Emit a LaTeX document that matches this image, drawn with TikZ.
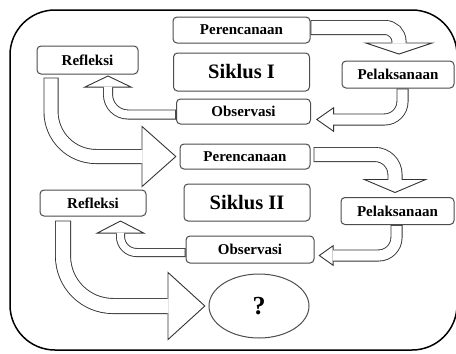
\documentclass[tikz,border=0pt]{standalone}
\usepackage{fontspec}
\setmainfont{Liberation Serif}
\usetikzlibrary{arrows.meta,positioning,calc,shapes.geometric}
\tikzset{
  box/.style={rectangle, draw=black!70, line width=1pt, rounded corners=4pt,
    fill=white, inner sep=0pt, font=\bfseries\fontsize{15}{15}\selectfont},
  title box/.style={box, font=\bfseries\fontsize{20.5}{20.5}\selectfont},
  hollow arrow/.style args={#1 with head #2 by #3}{
    draw=black!80, line width=#1, line cap=butt,
    -{Triangle[fill=white, width=#2, length=#3, line width=0.9pt]}, % outline + head
    postaction={draw=white, -, line width=(#1)-1.8pt,
                shorten <=0.9pt, shorten >=(#3)-1pt}, % hollow inside
  }
}

\begin{document}
\begin{tikzpicture}[x=1pt, y=-1pt]
  \useasboundingbox (0,0) rectangle (456,354);

  % frame
  \draw[line width=1.5pt, rounded corners=45pt] (10,10) rectangle (457,350);

  %%%%%%%%%%%%%%%%%%%%%%%%%%%%%%%%%%%%%%%%%%%%%%%%%%%%%%%%%%%%%%
  %                        SIKLUS I                            %
  %%%%%%%%%%%%%%%%%%%%%%%%%%%%%%%%%%%%%%%%%%%%%%%%%%%%%%%%%%%%%%

  \node[box, minimum width=137pt, minimum height=26pt] at (241.5,30) (plan1) {Perencanaan};
  \node[title box, minimum width=136pt, minimum height=38pt, below=9pt of plan1] (siklus1) {Siklus I};
  \node[box, minimum width=134pt, minimum height=25pt, below=7pt of siklus1, xshift=2pt] (obs1) {Observasi};
  \node[box, minimum width=101pt, minimum height=28pt] at (87.5,60) (refl1) {Refleksi};
  \node[box, minimum width=112pt, minimum height=27pt] at (398,74.5) (pel1) {Pelaksanaan};

  \draw[hollow arrow=15pt with head 72pt by 12pt, rounded corners=14pt]
    ([yshift=2.5pt]plan1.east) -| ([xshift=1pt,yshift=6pt]pel1.north);
  \draw[hollow arrow=12pt with head 25pt by 18pt, rounded corners=18pt]
    ([xshift=4.5pt]pel1.south) |- ([xshift=5pt,yshift=-8pt]obs1.east);
  \draw[hollow arrow=10pt with head 50pt by 12pt, rounded corners=20pt]
    ([yshift=-3pt]obs1.west) -| ([xshift=20.5pt,yshift=-1pt]refl1.south);

  %%%%%%%%%%%%%%%%%%%%%%%%%%%%%%%%%%%%%%%%%%%%%%%%%%%%%%%%%%%%%%
  %                        SIKLUS II                           %
  %%%%%%%%%%%%%%%%%%%%%%%%%%%%%%%%%%%%%%%%%%%%%%%%%%%%%%%%%%%%%%

  \node[box, minimum width=130pt, minimum height=25pt] at (245,156.5) (plan2) {Perencanaan};
  \node[title box, minimum width=126pt, minimum height=37pt, below=14pt of plan2, xshift=2pt] (siklus2) {Siklus II};
  \node[box, minimum width=128pt, minimum height=27pt, below=14pt of siklus2, xshift=3pt] (obs2) {Observasi};
  \node[box, minimum width=106pt, minimum height=26pt] at (93,203) (refl2) {Refleksi};
  \node[box, minimum width=113pt, minimum height=27pt] at (397.5,211) (pel2) {Pelaksanaan};
  \node[ellipse, draw=black!70, line width=1pt, inner sep=0pt, minimum width=100pt,
    minimum height=64pt, font=\bfseries\fontsize{26}{26}\selectfont] at (259,306) (result) {?};

  \draw[hollow arrow=15pt with head 62pt by 35pt, rounded corners=45pt]
    ([xshift=14.5pt,yshift=-3pt]refl1.south west) |- ([xshift=-3pt]plan2.west);
  \draw[hollow arrow=15pt with head 66pt by 14pt, rounded corners=20pt]
    ([xshift=3pt,yshift=2pt]plan2.east) -| ([xshift=-2.5pt,yshift=4pt]pel2.north);
  \draw[hollow arrow=12pt with head 21pt by 15pt, rounded corners=18pt]
    ([xshift=-1pt]pel2.south) |- ([xshift=4pt,yshift=-6pt]obs2.east);
  \draw[hollow arrow=9pt with head 50pt by 13pt, rounded corners=16pt]
    ([yshift=-3pt]obs2.west) -| ([xshift=27.5pt,yshift=-4pt]refl2.south);
  \draw[hollow arrow=16pt with head 69pt by 38pt, rounded corners=50pt]
    ([xshift=23.5pt,yshift=-4pt]refl2.south west) |- ([xshift=-3pt]result.west);

\end{tikzpicture}
\end{document}
